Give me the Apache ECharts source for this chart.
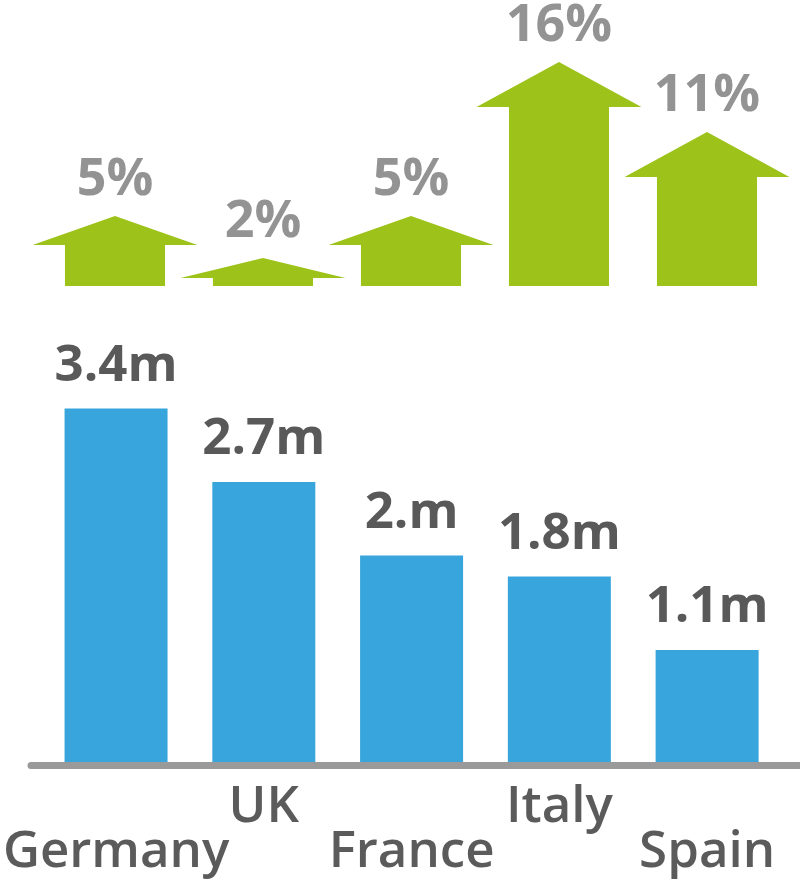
<!DOCTYPE html>
<html><head><meta charset="utf-8">
<script src="https://cdn.jsdelivr.net/npm/echarts@6/dist/echarts.min.js"></script>
<style>html,body{margin:0;padding:0;background:#fff}#c{width:800px;height:885px}</style>
</head><body><div id="c"></div>
<script>
// ---- data ----
const countries = ['Germany', 'UK', 'France', 'Italy', 'Spain'];
const visitors = [3.4, 2.7, 2.0, 1.8, 1.1];           // millions
const visitorLabels = ['3.4m', '2.7m', '2.m', '1.8m', '1.1m'];
const growth = [5, 2, 5, 16, 11];                    // percent
const growthLabels = ['5%', '2%', '5%', '16%', '11%'];

const chart = echarts.init(document.getElementById('c'));

function renderArrow(params, api) {
  const i = api.value(0), v = api.value(1);
  const base = api.coord([i, 0]);
  const tip = api.coord([i, v]);
  const band = api.size([1, 0])[0];
  const shaftHalf = band * 0.338, headHalf = band * 0.557;
  const cx = base[0], by = base[1], ty = tip[1];
  const headH = Math.min(45, 14 + 0.214 * (by - ty));
  const hy = ty + headH;
  return {
    type: 'group',
    children: [
      {
        type: 'polygon',
        shape: { points: [[cx - shaftHalf, by], [cx - shaftHalf, hy], [cx - headHalf, hy], [cx, ty],
                          [cx + headHalf, hy], [cx + shaftHalf, hy], [cx + shaftHalf, by]] },
        style: { fill: '#9dc31a' }
      },
      {
        type: 'text', x: cx, y: ty - 10,
        style: { text: growthLabels[params.dataIndex], fill: '#939393', fontFamily: 'Open Sans',
                 fontWeight: 'bold', fontSize: 52, align: 'center', verticalAlign: 'bottom' }
      }
    ]
  };
}

const option = {
  backgroundColor: '#ffffff',
  animation: false,
  grid: [
    { left: 41, right: 19, top: 6, height: 280 },
    { left: 41, right: 19, top: 345.5, height: 420 },
    { left: 31, right: 0, top: 345.5, height: 420 }
  ],
  xAxis: [
    { gridIndex: 0, type: 'category', data: countries, show: false },
    { gridIndex: 1, type: 'category', data: countries,
      axisLine: { show: false }, axisTick: { show: false },
      axisLabel: { interval: 0, margin: 19, fontFamily: 'Open Sans', fontWeight: 600, fontSize: 51,
                   lineHeight: 45, color: '#5b5b5b',
                   formatter: (v, i) => (i % 2 === 0 ? '\n' + v : v) } },
    { gridIndex: 2, type: 'category', data: countries, z: 10,
      axisLine: { show: true, lineStyle: { color: '#9a9a9a', width: 7 } },
      axisTick: { show: false }, axisLabel: { show: false } }
  ],
  yAxis: [
    { gridIndex: 0, type: 'value', min: 0, max: 20, show: false },
    { gridIndex: 1, type: 'value', min: 0, max: 4, show: false },
    { gridIndex: 2, type: 'value', min: 0, max: 4, show: false }
  ],
  series: [
    { type: 'custom', xAxisIndex: 0, yAxisIndex: 0,
      data: growth.map((v, i) => [i, v]), renderItem: renderArrow },
    { type: 'bar', xAxisIndex: 1, yAxisIndex: 1, data: visitors, barWidth: 103,
      itemStyle: { color: '#38a6dc' },
      label: { show: true, position: 'top', distance: 17,
               formatter: p => visitorLabels[p.dataIndex],
               fontFamily: 'Open Sans', fontWeight: 'bold', fontSize: 51, color: '#595959' } }
  ]
};
chart.setOption(option);
</script></body></html>
